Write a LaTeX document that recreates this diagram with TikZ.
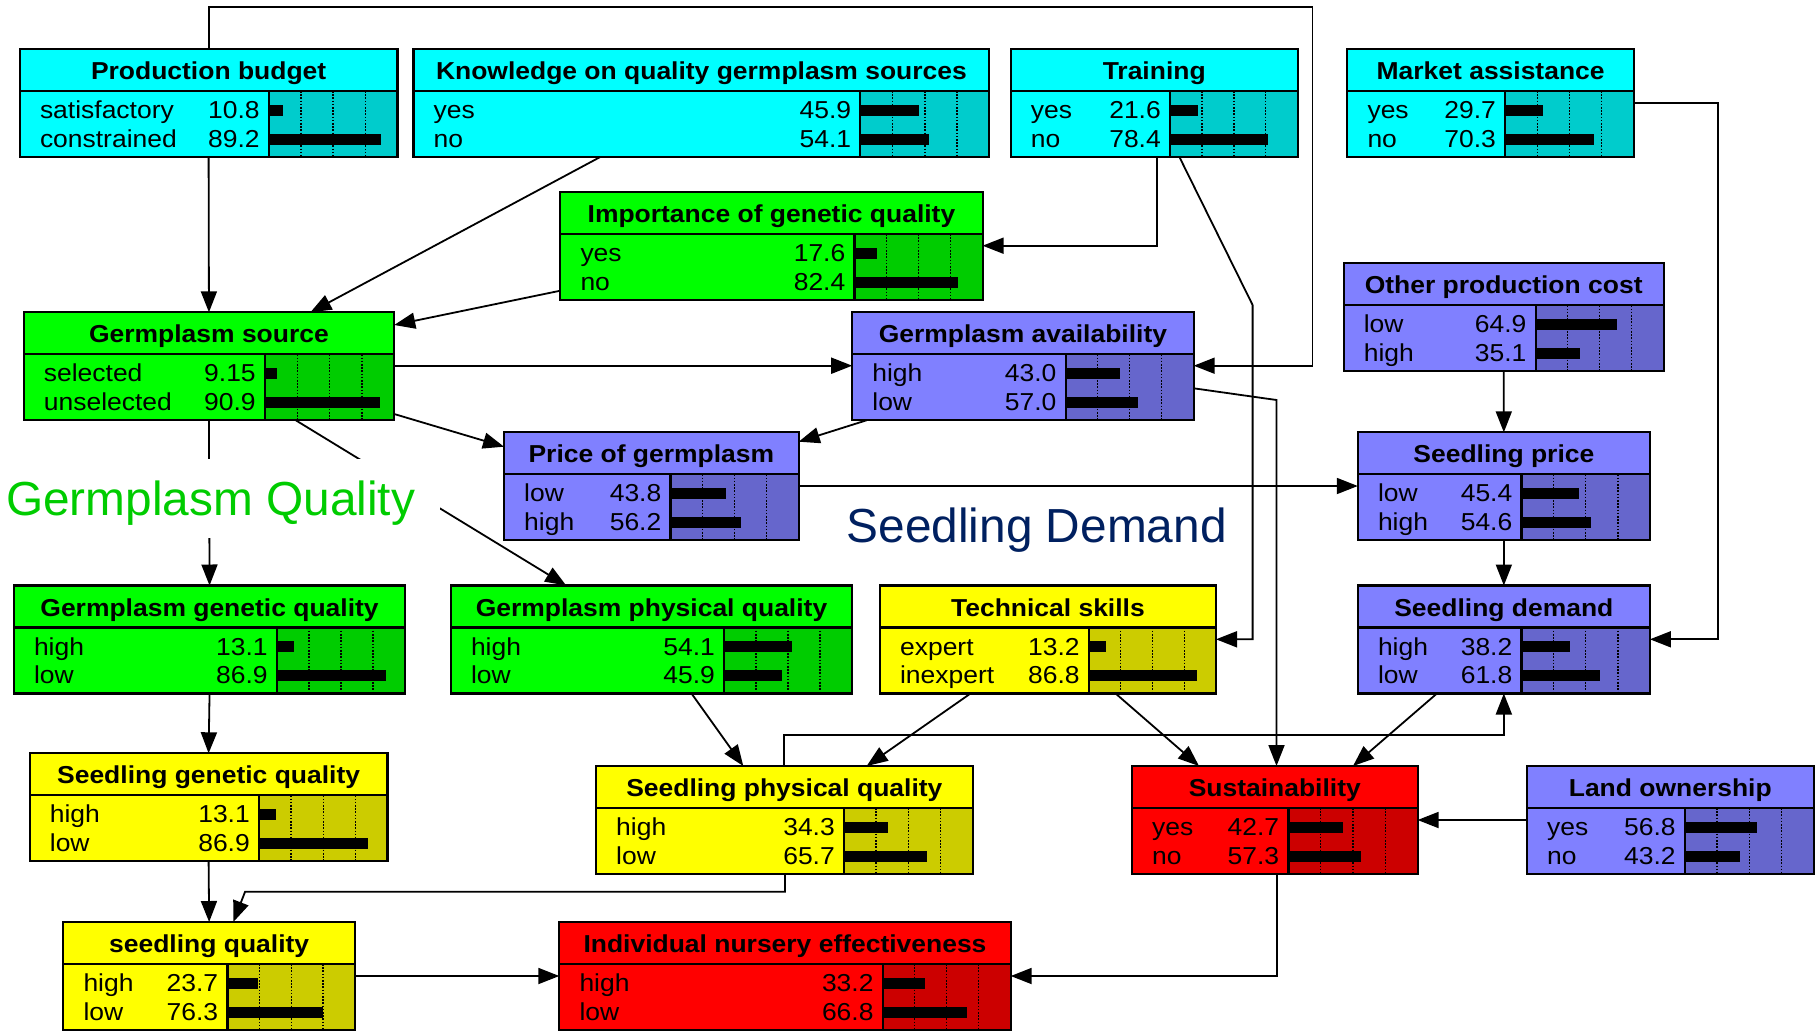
\documentclass[tikz,border=0pt]{standalone}
\usepackage{fontspec}
\setmainfont{Liberation Sans}
\newfontfamily\netfont{Liberation Sans}[FakeStretch=1.08]
\newfontfamily\lblfont{Liberation Sans}
\usetikzlibrary{arrows.meta,calc}

% node palettes: title/label area and bar area
\definecolor{cyanmain}{HTML}{00FFFF}\definecolor{cyandark}{HTML}{00CCCC}
\definecolor{greenmain}{HTML}{00FF00}\definecolor{greendark}{HTML}{00CC00}
\definecolor{bluemain}{HTML}{8080FF}\definecolor{bluedark}{HTML}{6666CC}
\definecolor{yellowmain}{HTML}{FFFF00}\definecolor{yellowdark}{HTML}{CCCC00}
\definecolor{redmain}{HTML}{FF0000}\definecolor{reddark}{HTML}{CC0000}
\definecolor{gqgreen}{HTML}{00CC00}
\definecolor{sdnavy}{HTML}{002060}

\tikzset{
  ttl/.style={font=\netfont\bfseries\fontsize{24.5}{28}\selectfont, inner sep=0},
  bdy/.style={font=\netfont\fontsize{24.5}{28}\selectfont, inner sep=0},
  frame/.style={draw, line width=2.2pt, inner sep=0, outer sep=0, anchor=north west},
  conn/.style={line width=1.8pt, -{Triangle[length=21pt,width=16pt]}},
  tick/.style={line width=1.4pt, dash pattern=on 1.6pt off 1.6pt},
  biglbl/.style={font=\lblfont\fontsize{47.8}{52}\selectfont, inner sep=0, anchor=base west}
}

% belief node: name, x-left/y-top/x-right/x-bar, palette, title, state1, value1, state2, value2
\def\bnsplit#1/#2/#3/#4\relax{\def\bxa{#1}\def\bya{#2}\def\bxb{#3}\def\bxc{#4}}
\newcommand{\bnbox}[8]{%
  \bnsplit#2\relax
  \pgfmathsetmacro\byd{\bya+42}%
  \pgfmathsetmacro\byb{\bya+108}%
  \pgfmathsetmacro\bbw{\bxb-\bxc}%
  \pgfmathsetmacro\bnw{\bxb-\bxa}%
  \fill[#3main] (\bxa,\bya) rectangle (\bxb,\byb);
  \fill[#3dark] (\bxc,\byd) rectangle (\bxb,\byb);
  \foreach \tf in {0.25,0.5,0.75}{\draw[tick] ({\bxc+\tf*\bbw},\byd) -- ({\bxc+\tf*\bbw},\byb);}
  \fill ({\bxc+1},{\byd+13.5}) rectangle ++({#6*\bbw/103},11);
  \fill ({\bxc+1},{\byd+42.5}) rectangle ++({#8*\bbw/103},11);
  \node[frame, minimum width=\bnw pt, minimum height=108pt] (#1) at (\bxa,\bya) {};
  \draw[line width=2.2pt] (\bxa,\byd) -- (\bxb,\byd) (\bxc,\byd) -- (\bxc,\byb);
  \node[ttl, anchor=base] at ({(\bxa+\bxb)/2},{\bya+30.5}) {#4};
  \node[bdy, anchor=base west] at ({\bxa+20},{\byd+27.5}) {#5};
  \node[bdy, anchor=base east] at ({\bxc-9},{\byd+27.5}) {#6};
  \node[bdy, anchor=base west] at ({\bxa+20},{\byd+56}) {#7};
  \node[bdy, anchor=base east] at ({\bxc-9},{\byd+56}) {#8};
}

\begin{document}
\begin{tikzpicture}[x=1pt,y=-1pt]
\useasboundingbox (0,0) rectangle (1819,1031);
\fill[white] (0,0) rectangle (1819,1031);

\bnbox{pb}{19.8/49/397.4/268.9}{cyan}{Production budget}{satisfactory}{10.8}{constrained}{89.2}
\bnbox{kn}{413.5/49/989.3/860.3}{cyan}{Knowledge on quality germplasm sources}{yes}{45.9}{no}{54.1}
\bnbox{tr}{1010.7/49/1297.7/1170}{cyan}{Training}{yes}{21.6}{no}{78.4}
\bnbox{ma}{1347.3/49/1634/1505.1}{cyan}{Market assistance}{yes}{29.7}{no}{70.3}
\bnbox{ig}{560.3/192/982.6/854.5}{green}{Importance of genetic quality}{yes}{17.6}{no}{82.4}
\bnbox{opc}{1343.6/263.3/1663.7/1535.6}{blue}{Other production cost}{low}{64.9}{high}{35.1}
\bnbox{gs}{23.7/312.3/394.2/264.9}{green}{Germplasm source}{selected}{9.15}{unselected}{90.9}
\bnbox{ga}{852.2/312.3/1193.7/1065.6}{blue}{Germplasm availability}{high}{43.0}{low}{57.0}
\bnbox{pg}{504/432.3/798.7/670.5}{blue}{Price of germplasm}{low}{43.8}{high}{56.2}
\bnbox{sp}{1357.8/432.3/1649.9/1521.5}{blue}{Seedling price}{low}{45.4}{high}{54.6}
\bnbox{ggq}{13.8/585.5/405.3/276.8}{green}{Germplasm genetic quality}{high}{13.1}{low}{86.9}
\bnbox{gpq}{450.8/585.5/852.2/724.1}{green}{Germplasm physical quality}{high}{54.1}{low}{45.9}
\bnbox{ts}{879.9/585.5/1216/1088.8}{yellow}{Technical skills}{expert}{13.2}{inexpert}{86.8}
\bnbox{sd}{1357.8/585.5/1649.9/1521.5}{blue}{Seedling demand}{high}{38.2}{low}{61.8}
\bnbox{sgq}{29.7/753.3/387.5/259}{yellow}{Seedling genetic quality}{high}{13.1}{low}{86.9}
\bnbox{spq}{596/766/972.7/844}{yellow}{Seedling physical quality}{high}{34.3}{low}{65.7}
\bnbox{su}{1131.9/766/1417.6/1288.4}{red}{Sustainability}{yes}{42.7}{no}{57.3}
\bnbox{lo}{1526.9/766/1813.6/1684.8}{blue}{Land ownership}{yes}{56.8}{no}{43.2}
\bnbox{sq}{63.3/922/355/227.4}{yellow}{seedling quality}{high}{23.7}{low}{76.3}
\bnbox{ine}{559.3/922/1010.7/882.7}{red}{Individual nursery effectiveness}{high}{33.2}{low}{66.8}

% links
\draw[conn] (pb.south) -- (gs.north);
\draw[conn] (pb.north) |- (1312.4,6.7) |- (ga.east |- 0,365.7);
\draw[conn] (600.2,0 |- kn.south) -- (310.4,0 |- gs.north);
\draw[conn] (ig.west |- 0,290.7) -- (gs.east |- 0,325);
\draw[conn] (1156.7,0 |- tr.south) |- (ig.east |- 0,245.7);
\draw[conn] (1179.4,0 |- tr.south) -- (1252.6,305) |- (ts.east |- 0,639.3);
\draw[conn] (ma.east |- 0,102.7) -| (1718.2,639.3) -- (sd.east |- 0,639.3);
\draw[conn] (opc.south) -- (sp.north);
\draw[conn] (gs.east |- 0,365.7) -- (ga.west |- 0,365.7);
\draw[conn] (gs.east |- 0,414) -- (pg.west |- 0,446.7);
\draw[conn] (866.5,0 |- ga.south) -- (pg.east |- 0,441.7);
\draw[conn] (ga.east |- 0,388.3) -- (1276.5,400) -- (1276.5,0 |- su.north);
\draw[conn] (pg.east |- 0,486) -- (sp.west |- 0,486);
\draw[conn] (sp.south) -- (sd.north);
\draw[conn] (gs.south) -- (ggq.north);
\draw[conn] (295.8,0 |- gs.south) -- (566.2,0 |- gpq.north);
\draw[conn] (ggq.south) -- (sgq.north);
\draw[conn] (691.5,0 |- gpq.south) -- (743.3,0 |- spq.north);
\draw[conn] (970.5,0 |- ts.south) -- (866.7,0 |- spq.north);
\draw[conn] (1115.6,0 |- ts.south) -- (1199,0 |- su.north);
\draw[conn] (1436.9,0 |- sd.south) -- (1353,0 |- su.north);
\draw[conn] (784.3,0 |- spq.north) |- (sd.south |- 0,735) -- (sd.south);
\draw[conn] (sgq.south) -- (sq.north);
\draw[conn] (785,0 |- spq.south) |- (245.1,891.7) -- (233.3,0 |- sq.north);
\draw[conn] (sq.east |- 0,976) -- (ine.west |- 0,976);
\draw[conn] (1277,0 |- su.south) |- (ine.east |- 0,976);
\draw[conn] (lo.west |- 0,820) -- (su.east |- 0,820);

% section labels
\fill[white] (0,459.3) rectangle (440,538.3);
\node[biglbl, text=gqgreen] (gqlabel) at (6,515) {Germplasm Quality};
\node[biglbl, text=sdnavy] (sdlabel) at (846.5,542.7) {Seedling Demand};
\end{tikzpicture}
\end{document}
